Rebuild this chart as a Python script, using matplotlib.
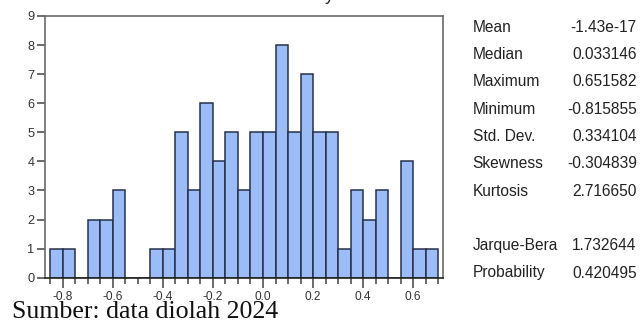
import numpy as np
import matplotlib
matplotlib.use("Agg")
import matplotlib.pyplot as plt
from matplotlib import font_manager
from matplotlib.ticker import FixedLocator

# ---- data ----
bin_left = [-0.85, -0.80, -0.75, -0.70, -0.65, -0.60, -0.55, -0.50, -0.45, -0.40,
            -0.35, -0.30, -0.25, -0.20, -0.15, -0.10, -0.05, 0.00, 0.05, 0.10,
            0.15, 0.20, 0.25, 0.30, 0.35, 0.40, 0.45, 0.50, 0.55, 0.60, 0.65]
counts = [1, 1, 0, 2, 2, 3, 0, 0, 1, 1,
          5, 3, 6, 4, 5, 3, 5, 5, 8, 5,
          7, 5, 5, 1, 3, 2, 3, 0, 4, 1, 1]
bin_width = 0.05
x_major = [-0.8, -0.6, -0.4, -0.2, 0.0, 0.2, 0.4, 0.6]
x_labels = ["-0.8", "-0.6", "-0.4", "-0.2", "0.0", "0.2", "0.4", "0.6"]
y_ticks = [0, 1, 2, 3, 4, 5, 6, 7, 8, 9]

stat_names = ["Mean", "Median", "Maximum", "Minimum", "Std. Dev.", "Skewness", "Kurtosis",
              "", "Jarque-Bera", "Probability"]
stat_values = ["-1.43e-17", "0.033146", "0.651582", "-0.815855", "0.334104", "-0.304839",
               "2.716650", "", "1.732644", "0.420495"]
source_text = "Sumber: data diolah 2024"

# ---- fonts ----
available = {f.name for f in font_manager.fontManager.ttflist}
has_narrow = "Liberation Sans Narrow" in available
narrow = [f for f in ["Liberation Sans Narrow", "Liberation Sans", "DejaVu Sans"]
          if f in available]
serif = [f for f in ["Liberation Serif", "DejaVu Serif"] if f in available]
stat_size = 13 if has_narrow else 11.2

W, H = 640, 325
fig = plt.figure(figsize=(6.4, 3.25), dpi=100)
ax = fig.add_axes([45 / W, 1 - 277.7 / H, (442.7 - 45) / W, (277.7 - 16) / H])

ax.bar(bin_left, counts, width=bin_width, align="edge",
       color="#9bbcf6", edgecolor="#26314a", linewidth=1.1, zorder=2)

ax.set_xlim(-0.871, 0.718)
ax.set_ylim(0, 9)

edges = bin_left + [bin_left[-1] + bin_width]
ax.xaxis.set_major_locator(FixedLocator(x_major))
ax.set_xticklabels(x_labels)
ax.xaxis.set_minor_locator(FixedLocator(edges))
ax.set_yticks(y_ticks)

ax.tick_params(axis="x", which="major", length=7, width=1.1, color="#444444",
               labelsize=8.6, labelcolor="#333333", pad=2.5)
ax.tick_params(axis="x", which="minor", length=4, width=1.1, color="#444444")
ax.tick_params(axis="y", which="major", length=5.5, width=1.1, color="#444444",
               labelsize=9.2, labelcolor="#333333", pad=2)
for lab in ax.get_xticklabels() + ax.get_yticklabels():
    lab.set_family(narrow)

for s in ["left", "top", "right"]:
    ax.spines[s].set_color("#6a6a6a")
    ax.spines[s].set_linewidth(1.2)
ax.spines["bottom"].set_color("#222222")
ax.spines["bottom"].set_linewidth(1.2)

# ---- statistics panel ----
row_y = 27.3
row_step = 27.3
for i, (name, val) in enumerate(zip(stat_names, stat_values)):
    y = 1 - (row_y + i * row_step) / H
    if name:
        fig.text(472.7 / W, y, name, ha="left", va="center", fontsize=stat_size,
                 family=narrow, color="#222222")
        fig.text(636.7 / W, y, val, ha="right", va="center", fontsize=stat_size,
                 family=narrow, color="#222222")

# cropped title remnant at top
fig.text(329 / W, 1.0, "y", ha="center", va="baseline", fontsize=13,
         family=narrow, color="#222222")

# source note
fig.text(12.5 / W, 1 - 318.5 / H, source_text, ha="left", va="baseline",
         fontsize=18.6, family=serif, color="#111111")

fig.savefig("out.png", dpi=100)
